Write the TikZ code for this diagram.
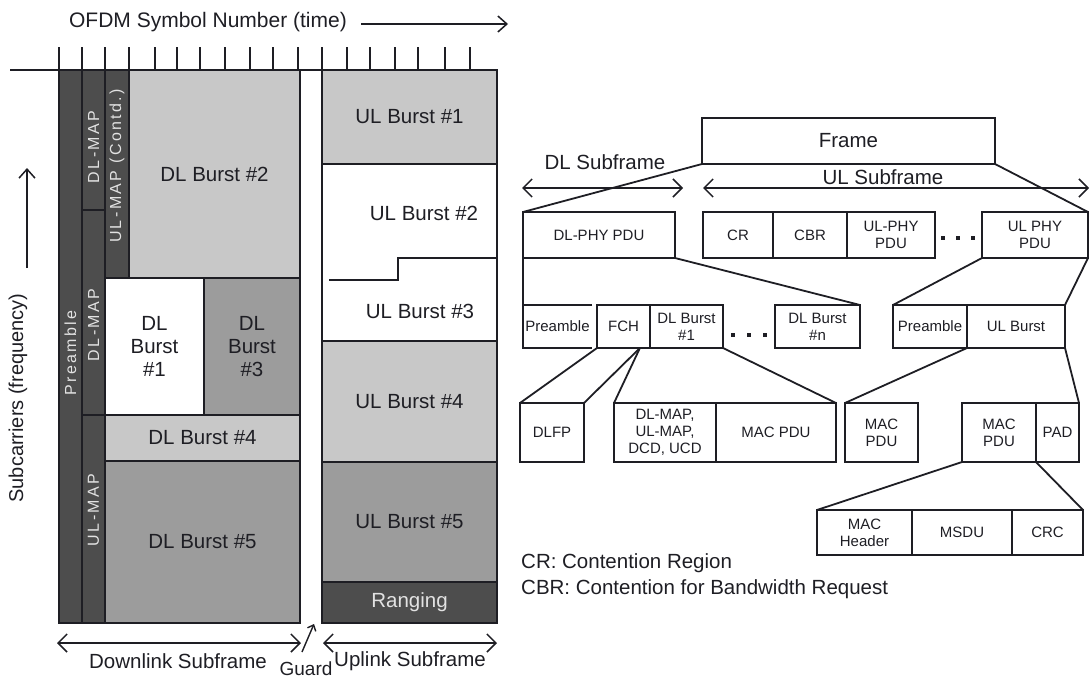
\documentclass[tikz,border=0pt]{standalone}
\usepackage{fontspec}
\setmainfont{Liberation Sans}
\newfontfamily\spacedsf[LetterSpace=15]{Liberation Sans}
\usetikzlibrary{arrows.meta,calc}
\definecolor{dk}{HTML}{4D4D4D}
\definecolor{lg}{HTML}{C8C8C8}
\definecolor{mg}{HTML}{9C9C9C}
\definecolor{txt}{HTML}{1E1E24}
\definecolor{ltxt}{HTML}{E2E2E2}
\begin{document}
\begin{tikzpicture}[x=1pt,y=-1pt,
  cell/.style={draw=txt, line width=1.8pt, inner sep=0pt, outer sep=0pt, align=center,
    font=\fontsize{20.5}{23}\selectfont, text=txt},
  vlabel/.style={rotate=90, text=ltxt, font=\spacedsf\fontsize{16}{18}\selectfont, inner sep=0pt},
  bx/.style={draw=txt, line width=1.8pt, inner sep=0pt, outer sep=0pt, align=center,
    font=\fontsize{15}{17}\selectfont, text=txt},
  plain/.style={inner sep=0pt, align=center, text=txt, font=\fontsize{20.5}{23}\selectfont},
  conn/.style={draw=txt, line width=1.8pt},
  bigbarb/.style={draw=txt, line width=1.5pt, {Straight Barb[length=9pt,width=18pt]}-{Straight Barb[length=9pt,width=18pt]}},
  onebarb/.style={draw=txt, line width=1.5pt, -{Straight Barb[length=9pt,width=16pt]}},
  dotsq/.style={fill=txt, minimum size=4pt, inner sep=0pt}
]
\useasboundingbox (0,0) rectangle (1090,680);

% ---------- left: frame structure ----------
\node[plain, font=\fontsize{21}{24}\selectfont] (ofdm) at (208,22) {OFDM Symbol Number (time)};
\coordinate (tend) at (508,24);
\draw[onebarb] ([xshift=14pt,yshift=-2pt]ofdm.east) -- (tend);

\node[plain, rotate=90, font=\fontsize{20}{22}\selectfont] (subc) at (18,398) {Subcarriers (frequency)};
\coordinate (fa1) at (27,268);
\coordinate (fa2) at (27,168);
\draw[onebarb] (fa1) -- (fa2);

% cells
\node[cell, fill=dk, minimum width=23, minimum height=553] (pre) at (70.5,346.5) {};
\node[cell, fill=dk, minimum width=23, minimum height=140] (dlmapa) at (93.5,140) {};
\node[cell, fill=dk, minimum width=23, minimum height=205] (dlmapb) at (93.5,312.5) {};
\node[cell, fill=dk, minimum width=23, minimum height=208] (ulmap) at (93.5,519) {};
\node[cell, fill=dk, minimum width=24, minimum height=208] (ulmapc) at (117,174) {};
\node[cell, fill=lg, minimum width=171, minimum height=208] (dl2) at (214.5,174) {DL Burst \#2};
\node[cell, fill=white, minimum width=99, minimum height=137] (dl1) at (154.5,346.5) {DL\\Burst\\\#1};
\node[cell, fill=mg, minimum width=96, minimum height=137] (dl3) at (252,346.5) {DL\\Burst\\\#3};
\node[cell, fill=lg, minimum width=195, minimum height=46] (dl4) at (202.5,438) {DL Burst \#4};
\node[cell, fill=mg, minimum width=195, minimum height=162] (dl5) at (202.5,542) {DL Burst \#5};

\node[vlabel] (tpre) at (70.5,353) {Preamble};
\node[vlabel] (tdlmapa) at (93.5,147) {DL-MAP};
\node[vlabel] (tulmapc) at (117,166) {UL-MAP (Contd.)};
\node[vlabel] (tdlmapb) at (93.5,325) {DL-MAP};
\node[vlabel] (tulmap) at (93.5,510) {UL-MAP};

\node[cell, fill=lg, minimum width=175, minimum height=94] (ul1) at (409.5,117) {UL Burst \#1};
\node[cell, fill=white, minimum width=175, minimum height=177] (ul23) at (409.5,252.5) {};
\node[plain] (ul2) at (424,213) {UL Burst \#2};
\node[plain] (ul3) at (420,311) {UL Burst \#3};
\coordinate (st1) at (329,280);
\coordinate (st2) at (398,280);
\coordinate (st3) at (398,258);
\coordinate (st4) at (497,258);
\draw[conn] (st1) -- (st2) -- (st3) -- (st4);
\node[cell, fill=lg, minimum width=175, minimum height=121] (ul4) at (409.5,401.5) {UL Burst \#4};
\node[cell, fill=mg, minimum width=175, minimum height=120] (ul5) at (409.5,522) {UL Burst \#5};
\node[cell, fill=dk, minimum width=175, minimum height=41, text=ltxt] (rng) at (409.5,602.5) {Ranging};

% outer frame lines
\draw[txt, line width=2.4pt] (59,70) rectangle (300,623);
\draw[txt, line width=2.4pt] (322,70) rectangle (497,623);
\draw[txt, line width=2pt] (10,70) -- (497,70);
\foreach \x in {59,82,105,129,155,177,200,225,250,273,298,322,347,370,395,418,445,470}
  \draw[txt, line width=1.8pt] (\x,47) -- (\x,70);

% bottom annotations
\coordinate (da1) at (57,643);
\coordinate (da2) at (301,643);
\draw[bigbarb] (da1) -- (da2);
\coordinate (ua1) at (323,643);
\coordinate (ua2) at (497,643);
\draw[bigbarb] (ua1) -- (ua2);
\coordinate (g1) at (302,652);
\coordinate (g2) at (314,624);
\draw[draw=txt, line width=1.4pt, -{Straight Barb[length=5pt,width=9pt]}] (g1) -- (g2);
\node[plain] (dlsub) at (178,661) {Downlink Subframe};
\node[plain] (ulsub) at (410,661) {Uplink Subframe};
\node[plain, font=\fontsize{19}{21}\selectfont] (guard) at (306,669) {Guard};

% ---------- right: PDU hierarchy ----------
\node[cell, minimum width=293, minimum height=46] (frame) at (848.5,141) {Frame};
\node[plain] (dlsf) at (605,162) {DL Subframe};
\node[plain] (ulsf) at (883,177) {UL Subframe};
\coordinate (dsa) at (522,188);
\coordinate (dsb) at (683,188);
\draw[bigbarb] (dsa) -- (dsb);
\coordinate (usa) at (703,188);
\coordinate (usb) at (1089,188);
\draw[bigbarb] (usa) -- (usb);

\node[bx, minimum width=152, minimum height=46] (dlphy) at (599,235) {DL-PHY PDU};
\node[bx, minimum width=70, minimum height=46] (cr) at (738,235) {CR};
\node[bx, minimum width=74, minimum height=46] (cbr) at (810,235) {CBR};
\node[bx, minimum width=88, minimum height=46] (ulphya) at (891,235) {UL-PHY\\PDU};
\node[dotsq] (d1) at (943,238) {};
\node[dotsq] (d2) at (958,238) {};
\node[dotsq] (d3) at (973,238) {};
\node[bx, minimum width=106, minimum height=46] (ulphyb) at (1035,235) {UL PHY\\PDU};

\node[bx, draw=none, minimum width=69, minimum height=43] (pre1) at (557.5,326.5) {Preamble};
\draw[conn] (pre1.north east) -- (pre1.north west) -- (pre1.south west) -- (pre1.south east);
\node[bx, minimum width=53, minimum height=43] (fch) at (623.5,326.5) {FCH};
\node[bx, minimum width=73, minimum height=43] (dlb1) at (686.5,326.5) {DL Burst\\\#1};
\node[dotsq] (e1) at (733,335) {};
\node[dotsq] (e2) at (749,335) {};
\node[dotsq] (e3) at (765,335) {};
\node[bx, minimum width=85, minimum height=43] (dlbn) at (817.5,326.5) {DL Burst\\\#n};
\node[bx, minimum width=74, minimum height=43] (pre2) at (930,326.5) {Preamble};
\node[bx, minimum width=98, minimum height=43] (ulb) at (1016,326.5) {UL Burst};

\node[bx, minimum width=64, minimum height=59] (dlfp) at (552,432.5) {DLFP};
\node[bx, minimum width=102, minimum height=59] (dlmaps) at (665,432.5) {DL-MAP,\\UL-MAP,\\DCD, UCD};
\node[bx, minimum width=120, minimum height=59] (macpdua) at (776,432.5) {MAC PDU};
\node[bx, minimum width=73, minimum height=59] (macpdub) at (881.5,432.5) {MAC\\PDU};
\node[bx, minimum width=74, minimum height=59] (macpduc) at (999,432.5) {MAC\\PDU};
\node[bx, minimum width=43, minimum height=59] (pad) at (1057.5,432.5) {PAD};

\node[bx, minimum width=95, minimum height=45] (mach) at (864.5,532.5) {MAC\\Header};
\node[bx, minimum width=100, minimum height=45] (msdu) at (962,532.5) {MSDU};
\node[bx, minimum width=71, minimum height=45] (crc) at (1047.5,532.5) {CRC};

% connectors
\draw[conn] (frame.south west) -- (dlphy.north west);
\draw[conn] (frame.south east) -- (ulphyb.north east);
\draw[conn] (dlphy.south west) -- (pre1.north west);
\draw[conn] (dlphy.south east) -- (dlbn.north east);
\draw[conn] (ulphyb.south west) -- (pre2.north west);
\draw[conn] (ulphyb.south east) -- (ulb.north east);
\draw[conn] (fch.south west) -- (dlfp.north west);
\coordinate (fchx) at ($(fch.south west)!0.81!(fch.south east)$);
\draw[conn] (fchx) -- (dlfp.north east);
\draw[conn] (fchx) -- (dlmaps.north west);
\draw[conn] (dlb1.south east) -- (macpdua.north east);
\draw[conn] (pre2.south east) -- (macpdub.north west);
\draw[conn] (ulb.south east) -- (pad.north east);
\draw[conn] (macpduc.south west) -- (mach.north west);
\draw[conn] (macpduc.south east) -- (crc.north east);

\node[plain, anchor=west] (leg1) at (521,563) {CR: Contention Region};
\node[plain, anchor=west] (leg2) at (521,589) {CBR: Contention for Bandwidth Request};
\end{tikzpicture}
\end{document}
